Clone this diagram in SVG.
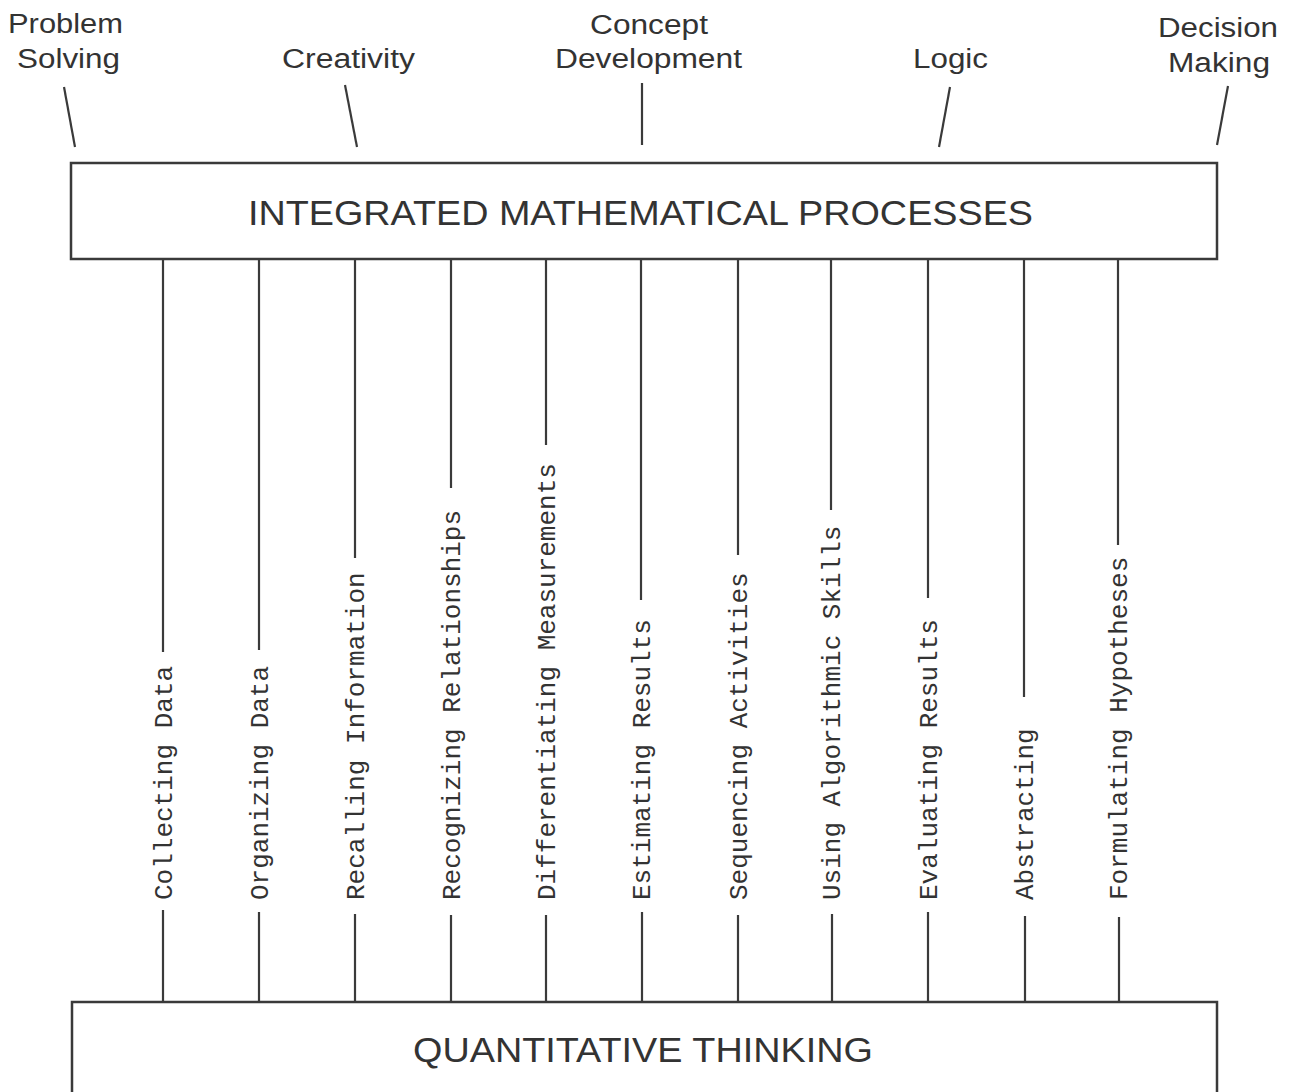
<svg xmlns="http://www.w3.org/2000/svg" width="1291" height="1092" viewBox="0 0 1291 1092">
  <style>
    .box { fill: #ffffff; stroke: #3a3a3a; stroke-width: 2.5; }
    .line { stroke: #3a3a3a; stroke-width: 2.2; fill: none; stroke-linecap: butt; }
    .head { font-family: "Liberation Sans", Arial, Helvetica, sans-serif; font-size: 27px; fill: #333333; }
    .title { font-family: "Liberation Sans", Arial, Helvetica, sans-serif; font-size: 35.5px; fill: #333333; }
    .skill { font-family: "Liberation Mono", "Courier New", monospace; font-size: 26px; fill: #333333; }
  </style>
  <rect width="1291" height="1092" fill="#ffffff"/>

  <!-- outcome labels above the process box -->
  <g id="problem-solving">
    <text class="head" x="8" y="33" textLength="115" lengthAdjust="spacingAndGlyphs">Problem</text>
    <text class="head" x="17" y="68" textLength="103" lengthAdjust="spacingAndGlyphs">Solving</text>
  </g>
  <g id="creativity">
    <text class="head" x="282" y="68" textLength="133" lengthAdjust="spacingAndGlyphs">Creativity</text>
  </g>
  <g id="concept-development">
    <text class="head" x="590" y="34" textLength="118" lengthAdjust="spacingAndGlyphs">Concept</text>
    <text class="head" x="555" y="68" textLength="187" lengthAdjust="spacingAndGlyphs">Development</text>
  </g>
  <g id="logic">
    <text class="head" x="913" y="68" textLength="75" lengthAdjust="spacingAndGlyphs">Logic</text>
  </g>
  <g id="decision-making">
    <text class="head" x="1158" y="37" textLength="120" lengthAdjust="spacingAndGlyphs">Decision</text>
    <text class="head" x="1168" y="72" textLength="102" lengthAdjust="spacingAndGlyphs">Making</text>
  </g>

  <!-- central process box -->
  <g id="integrated-processes">
    <rect class="box" x="71" y="163" width="1146" height="96"/>
    <text class="title" x="248" y="225" textLength="785" lengthAdjust="spacingAndGlyphs">INTEGRATED MATHEMATICAL PROCESSES</text>
  </g>

  <!-- base box -->
  <g id="quantitative-thinking">
    <rect class="box" x="72" y="1002" width="1145" height="110"/>
    <text class="title" x="413" y="1062" textLength="460" lengthAdjust="spacingAndGlyphs">QUANTITATIVE THINKING</text>
  </g>

  <!-- skill labels, set vertically -->
  <g id="skill-labels" class="skill">
    <g id="collecting-data"><text transform="translate(172,900) rotate(-90)">Collecting Data</text></g>
    <g id="organizing-data"><text transform="translate(268,900) rotate(-90)">Organizing Data</text></g>
    <g id="recalling-information"><text transform="translate(364,900) rotate(-90)">Recalling Information</text></g>
    <g id="recognizing-relationships"><text transform="translate(460,900) rotate(-90)">Recognizing Relationships</text></g>
    <g id="differentiating-measurements"><text transform="translate(555,900) rotate(-90)">Differentiating Measurements</text></g>
    <g id="estimating-results"><text transform="translate(650,900) rotate(-90)">Estimating Results</text></g>
    <g id="sequencing-activities"><text transform="translate(747,900) rotate(-90)">Sequencing Activities</text></g>
    <g id="using-algorithmic-skills"><text transform="translate(840,900) rotate(-90)">Using Algorithmic Skills</text></g>
    <g id="evaluating-results"><text transform="translate(937,900) rotate(-90)">Evaluating Results</text></g>
    <g id="abstracting"><text transform="translate(1033,900) rotate(-90)">Abstracting</text></g>
    <g id="formulating-hypotheses"><text transform="translate(1127,900) rotate(-90)">Formulating Hypotheses</text></g>
  </g>

  <!-- connectors -->
  <g id="connectors" class="line">
    <!-- outcomes to process box -->
    <line x1="64" y1="87" x2="75" y2="147"/>
    <line x1="345" y1="85" x2="357" y2="147"/>
    <line x1="642" y1="83" x2="642" y2="145"/>
    <line x1="950" y1="87" x2="939" y2="147"/>
    <line x1="1228" y1="86" x2="1217" y2="145"/>

    <!-- process box down to each skill -->
    <line x1="163" y1="259" x2="163" y2="652"/>
    <line x1="259" y1="259" x2="259" y2="650"/>
    <line x1="355" y1="259" x2="355" y2="558"/>
    <line x1="451" y1="259" x2="451" y2="488"/>
    <line x1="546" y1="259" x2="546" y2="445"/>
    <line x1="641" y1="259" x2="641" y2="600"/>
    <line x1="738" y1="259" x2="738" y2="555"/>
    <line x1="831" y1="259" x2="831" y2="510"/>
    <line x1="928" y1="259" x2="928" y2="598"/>
    <line x1="1024" y1="259" x2="1024" y2="697"/>
    <line x1="1118" y1="259" x2="1118" y2="545"/>

    <!-- each skill down to the base box -->
    <line x1="163" y1="910" x2="163" y2="1002"/>
    <line x1="259" y1="912" x2="259" y2="1002"/>
    <line x1="355" y1="914" x2="355" y2="1002"/>
    <line x1="451" y1="915" x2="451" y2="1002"/>
    <line x1="546" y1="915" x2="546" y2="1002"/>
    <line x1="642" y1="912" x2="642" y2="1002"/>
    <line x1="738" y1="915" x2="738" y2="1002"/>
    <line x1="832" y1="914" x2="832" y2="1002"/>
    <line x1="928" y1="912" x2="928" y2="1002"/>
    <line x1="1025" y1="916" x2="1025" y2="1002"/>
    <line x1="1119" y1="917" x2="1119" y2="1002"/>
  </g>
</svg>
